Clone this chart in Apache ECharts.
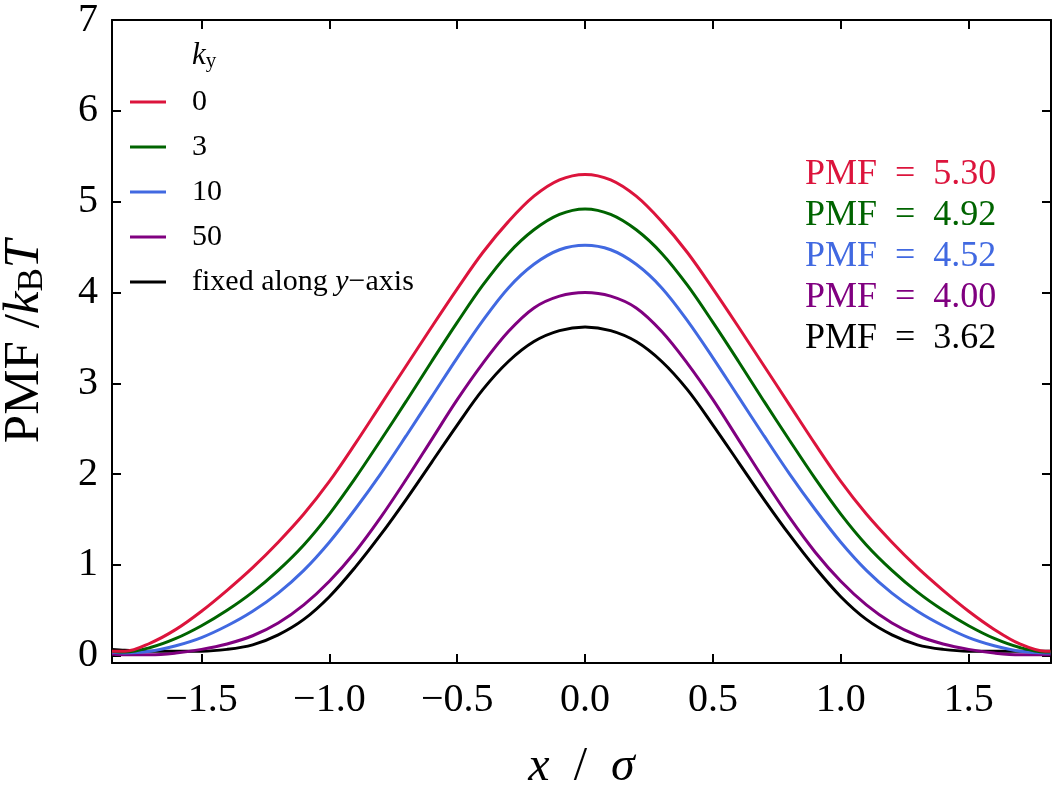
<!DOCTYPE html>
<html><head><meta charset="utf-8">
<script src="https://cdn.jsdelivr.net/npm/echarts@6/dist/echarts.min.js"></script>
<style>html,body{margin:0;padding:0;background:#fff}#c{width:1052px;height:789px}</style>
</head><body><div id="c"></div>
<script>
// x positions (x / sigma)
const xValues = [-1.85,-1.8,-1.7,-1.6,-1.5,-1.4,-1.3,-1.2,-1.1,-1.0,-0.9,-0.8,-0.7,-0.6,-0.5,-0.4,-0.3,-0.2,-0.1,0,
  0.1,0.2,0.3,0.4,0.5,0.6,0.7,0.8,0.9,1.0,1.1,1.2,1.3,1.4,1.5,1.6,1.7,1.8,1.82];
// PMF / kBT for each ky
const pmfK0 = [0.05,0.05,0.14,0.29,0.49,0.72,0.97,1.25,1.56,1.92,2.33,2.76,3.19,3.62,4.04,4.44,4.78,5.06,5.24,5.30,
  5.24,5.06,4.78,4.44,4.04,3.62,3.19,2.76,2.33,1.92,1.56,1.25,0.97,0.72,0.49,0.29,0.13,0.05,0.05];
const pmfK3 = [0.05,0.04,0.09,0.19,0.33,0.50,0.70,0.94,1.22,1.56,1.95,2.37,2.80,3.24,3.67,4.08,4.43,4.69,4.86,4.92,
  4.86,4.69,4.43,4.08,3.67,3.24,2.80,2.37,1.95,1.56,1.22,0.94,0.70,0.50,0.33,0.19,0.09,0.04,0.04];
const pmfK10 = [0.04,0.03,0.05,0.11,0.20,0.33,0.49,0.69,0.94,1.25,1.61,2.00,2.42,2.85,3.28,3.69,4.05,4.31,4.47,4.52,
  4.47,4.31,4.05,3.69,3.28,2.85,2.42,2.00,1.61,1.25,0.94,0.69,0.49,0.33,0.20,0.11,0.05,0.03,0.03];
const pmfK50 = [0.02,0.01,0.01,0.03,0.07,0.13,0.22,0.36,0.56,0.82,1.14,1.52,1.94,2.38,2.82,3.22,3.57,3.83,3.96,4.00,
  3.96,3.83,3.57,3.22,2.82,2.38,1.94,1.52,1.14,0.82,0.56,0.36,0.22,0.13,0.07,0.03,0.01,0.01,0.01];
const pmfFixed = [0.07,0.06,0.05,0.05,0.05,0.07,0.12,0.23,0.40,0.65,0.97,1.33,1.72,2.13,2.54,2.93,3.24,3.46,3.58,3.62,
  3.58,3.46,3.24,2.93,2.54,2.13,1.72,1.33,0.97,0.65,0.40,0.23,0.12,0.07,0.05,0.05,0.05,0.05,0.05];
const seriesNames = ['0','3','10','50','fixed along y-axis'];
const seriesColors = ['#DC143C','#006400','#4169E1','#800080','#000000'];
const barrierLabels = ['PMF = 5.30','PMF = 4.92','PMF = 4.52','PMF = 4.00','PMF = 3.62'];
const xTicks = [-1.5,-1.0,-0.5,0,0.5,1.0,1.5];
const yTicks = [0,1,2,3,4,5,6,7];

const SERIF = 'Liberation Serif';
const allData = [pmfK0, pmfK3, pmfK10, pmfK50, pmfFixed];
const chart = echarts.init(document.getElementById('c'), null, {renderer: 'canvas'});
const fmtX = v => (v < 0 ? '\u2212' : '') + Math.abs(v).toFixed(1);

const axisBase = {
  axisLine: {show: true, onZero: false, lineStyle: {color: '#000', width: 2}},
  splitLine: {show: false}
};
const option = {
  animation: false,
  backgroundColor: '#fff',
  grid: {left: 112, right: 1, top: 20, bottom: 126, containLabel: false, outerBoundsMode: 'none'},
  xAxis: [
    Object.assign({}, axisBase, {
      type: 'value', min: -1.85, max: 1.822, position: 'bottom',
      axisTick: {show: true, inside: true, length: 9, customValues: xTicks, lineStyle: {color: '#000', width: 2}},
      axisLabel: {customValues: xTicks, formatter: fmtX, margin: 17, color: '#000', fontFamily: SERIF, fontSize: 40},
      name: '{i|x}{n|\u2002/\u2002}{i|\u03c3}', nameLocation: 'middle', nameGap: 80,
      nameTextStyle: {rich: {
        i: {fontFamily: SERIF, fontStyle: 'italic', fontSize: 48, color: '#000'},
        n: {fontFamily: SERIF, fontSize: 48, color: '#000'}
      }}
    }),
    Object.assign({}, axisBase, {
      type: 'value', min: -1.85, max: 1.822, position: 'top',
      axisTick: {show: true, inside: true, length: 9, customValues: xTicks, lineStyle: {color: '#000', width: 2}},
      axisLabel: {show: false}
    })
  ],
  yAxis: [
    Object.assign({}, axisBase, {
      type: 'value', min: -0.08, max: 7, position: 'left',
      axisTick: {show: true, inside: true, length: 9, customValues: yTicks, lineStyle: {color: '#000', width: 2}},
      axisLabel: {customValues: yTicks, formatter: v => String(Math.round(v)), margin: 14, color: '#000', fontFamily: SERIF, fontSize: 40},
      name: '{n|PMF /}{i|k}{s|B}{i|T}', nameLocation: 'middle', nameGap: 62,
      nameTextStyle: {rich: {
        n: {fontFamily: SERIF, fontSize: 51, color: '#000'},
        i: {fontFamily: SERIF, fontStyle: 'italic', fontSize: 51, color: '#000'},
        s: {fontFamily: SERIF, fontSize: 35, color: '#000', padding: [16, 0, 0, 0]}
      }}
    }),
    Object.assign({}, axisBase, {
      type: 'value', min: -0.08, max: 7, position: 'right',
      axisTick: {show: true, inside: true, length: 9, customValues: yTicks, lineStyle: {color: '#000', width: 2}},
      axisLabel: {show: false}
    })
  ],
  legend: {
    orient: 'vertical', left: 125, top: 82, itemWidth: 36, itemHeight: 3, itemGap: 15,
    icon: 'rect',
    data: seriesNames,
    formatter: name => name === 'fixed along y-axis'
      ? '{p|}{n|fixed along }{i|y}{n|\u2212axis}'
      : '{p|}{n|' + name + '}',
    textStyle: {rich: {
      p: {width: 21},
      n: {fontFamily: SERIF, fontSize: 30, color: '#000'},
      i: {fontFamily: SERIF, fontStyle: 'italic', fontSize: 30, color: '#000'}
    }}
  },
  graphic: [
    {type: 'text', left: 192, top: 40, silent: true, style: {
      text: '{k|k}{s|y}', rich: {
        k: {fontFamily: SERIF, fontStyle: 'italic', fontSize: 31, color: '#000'},
        s: {fontFamily: SERIF, fontSize: 21, color: '#000', padding: [12, 0, 0, 0]}
      }}}
  ].concat(barrierLabels.map((t, i) => ({
    type: 'text', left: 805, top: 157 + i * 41, silent: true,
    style: {text: t.replace(' = ', '\u2002=\u2002'), fill: seriesColors[i], font: '36px "' + SERIF + '"'}
  }))),
  series: seriesNames.map((n, i) => ({
    name: n, type: 'line', xAxisIndex: 0, yAxisIndex: 0,
    showSymbol: false, symbol: 'none', smooth: 0.35,
    lineStyle: {color: seriesColors[i], width: 3},
    itemStyle: {color: seriesColors[i]},
    data: xValues.map((x, j) => [x, allData[i][j]]),
    z: 10 - i
  }))
};
chart.setOption(option);
</script></body></html>
